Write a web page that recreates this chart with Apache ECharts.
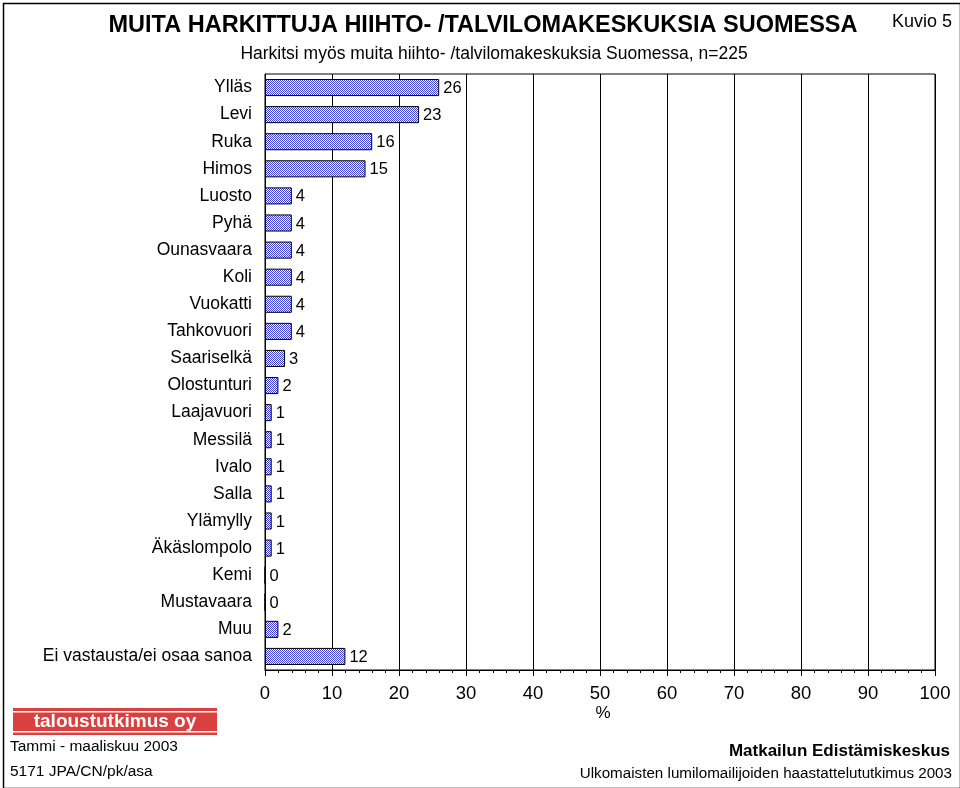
<!DOCTYPE html>
<html>
<head>
<meta charset="utf-8">
<script src="https://cdn.jsdelivr.net/npm/echarts@6/dist/echarts.min.js"></script>
<style>
  html, body { margin: 0; padding: 0; background: #fff; }
  #chart { width: 960px; height: 788px; }
</style>
</head>
<body>
<div id="chart"></div>
<script>
// kohteet ja osuudet (%)
var categories = ['Ylläs', 'Levi', 'Ruka', 'Himos', 'Luosto', 'Pyhä', 'Ounasvaara', 'Koli',
  'Vuokatti', 'Tahkovuori', 'Saariselkä', 'Olostunturi', 'Laajavuori', 'Messilä', 'Ivalo',
  'Salla', 'Ylämylly', 'Äkäslompolo', 'Kemi', 'Mustavaara', 'Muu', 'Ei vastausta/ei osaa sanoa'];
var values = [26, 23, 16, 15, 4, 4, 4, 4, 4, 4, 3, 2, 1, 1, 1, 1, 1, 1, 0, 0, 2, 12];
var xTicks = [0, 10, 20, 30, 40, 50, 60, 70, 80, 90, 100];

var FONT = 'Liberation Sans, Arial, sans-serif';

// ruudukkokuvio palkkeihin
var pat = document.createElement('canvas');
pat.width = 2; pat.height = 2;
var pc = pat.getContext('2d');
pc.fillStyle = '#ffffff'; pc.fillRect(0, 0, 2, 2);
pc.fillStyle = '#3c3cd0'; pc.fillRect(0, 0, 1, 1); pc.fillRect(1, 1, 1, 1);

var chart = echarts.init(document.getElementById('chart'), null, { renderer: 'canvas' });

var option = {
  backgroundColor: '#fff',
  animation: false,
  textStyle: { fontFamily: FONT },
  grid: { left: 265, right: 25, top: 74, bottom: 118, show: true, borderColor: '#000', borderWidth: 1 },
  title: [
    { text: 'MUITA HARKITTUJA HIIHTO- /TALVILOMAKESKUKSIA SUOMESSA', left: 478, top: 9, textAlign: 'center',
      textStyle: { fontFamily: FONT, fontSize: 23.5, fontWeight: 'bold', color: '#000' } },
    { text: 'Harkitsi myös muita hiihto- /talvilomakeskuksia Suomessa, n=225', left: 489, top: 40, textAlign: 'center',
      textStyle: { fontFamily: FONT, fontSize: 17.5, fontWeight: 'normal', color: '#000' } },
    { text: 'Kuvio 5', right: 3, top: 8,
      textStyle: { fontFamily: FONT, fontSize: 18, fontWeight: 'normal', color: '#000' } }
  ],
  xAxis: {
    type: 'value', min: 0, max: 100, interval: 10,
    axisLine: { show: true, lineStyle: { color: '#000', width: 1 } },
    axisTick: { show: true, length: 6, lineStyle: { color: '#000' } },
    minorTick: { show: true, splitNumber: 5, length: 3, lineStyle: { color: '#000' } },
    splitLine: { show: true, lineStyle: { color: '#000', width: 1 } },
    axisLabel: { fontFamily: FONT, fontSize: 18.5, color: '#000', margin: 14,
      formatter: function (v) { return xTicks.indexOf(v) >= 0 ? String(v) : ''; } }
  },
  yAxis: {
    type: 'category', data: categories, inverse: true,
    axisLine: { show: true, lineStyle: { color: '#000', width: 1 } },
    axisTick: { show: false },
    axisLabel: { fontFamily: FONT, fontSize: 17.5, color: '#000', margin: 13 }
  },
  series: [{
    type: 'bar',
    data: values,
    barWidth: '63%',
    itemStyle: { color: { image: pat, repeat: 'repeat' }, borderColor: '#000', borderWidth: 1 },
    label: { show: true, position: 'right', distance: 4, offset: [0, 1], fontFamily: FONT, fontSize: 16.5, color: '#000' }
  }],
  graphic: [
    { type: 'rect', left: 1, top: 1, shape: { width: 957, height: 785 },
      style: { fill: 'none', stroke: '#000', lineWidth: 1.5 } },
    { type: 'text', x: 603, y: 713, style: { text: '%', fill: '#000', align: 'center',
      verticalAlign: 'middle', font: '17px ' + FONT } },
    { type: 'rect', left: 13, top: 708, shape: { width: 204, height: 27 }, style: { fill: '#d9403f' } },
    { type: 'rect', left: 13, top: 711, shape: { width: 204, height: 1.5 }, style: { fill: '#fff' } },
    { type: 'rect', left: 13, top: 731, shape: { width: 204, height: 1.5 }, style: { fill: '#fff' } },
    { type: 'text', x: 115, y: 722, style: { text: 'taloustutkimus oy', fill: '#fff', align: 'center',
      verticalAlign: 'middle', font: 'bold 19px ' + FONT } },
    { type: 'text', left: 10, top: 739, style: { text: 'Tammi - maaliskuu 2003', fill: '#000', font: '15.5px ' + FONT } },
    { type: 'text', left: 10, top: 764, style: { text: '5171 JPA/CN/pk/asa', fill: '#000', font: '15.5px ' + FONT } },
    { type: 'text', right: 10, top: 743, style: { text: 'Matkailun Edistämiskeskus', fill: '#000', font: 'bold 17px ' + FONT } },
    { type: 'text', right: 8, top: 766, style: { text: 'Ulkomaisten lumilomailijoiden haastattelututkimus 2003', fill: '#000', font: '15.2px ' + FONT } }
  ]
};

chart.setOption(option);
</script>
</body>
</html>
